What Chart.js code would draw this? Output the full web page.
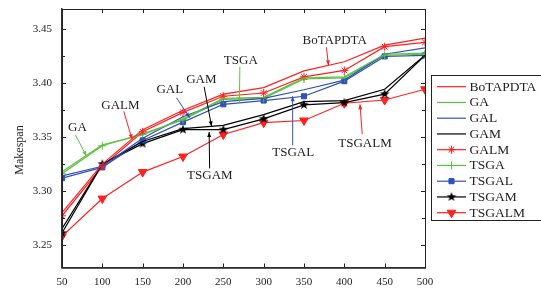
<!DOCTYPE html>
<html>
<head>
<meta charset="utf-8">
<script src="https://cdn.jsdelivr.net/npm/chart.js@4"></script>
<style>
  body { margin: 0; background: #fff; }
  #wrap { width: 541px; height: 293px; }
</style>
</head>
<body>
<div id="wrap"><canvas id="makespanChart" width="541" height="293"></canvas></div>
<script>
// data
const xValues = [50, 100, 150, 200, 250, 300, 350, 400, 450, 500];
const yTickValues = [3.25, 3.30, 3.35, 3.40, 3.45];
const yMinorValues = [3.275, 3.325, 3.375, 3.425];

const boTAPDTA = [3.280, 3.325, 3.357, 3.375, 3.390, 3.396, 3.4115, 3.420, 3.4355, 3.442];
const ga       = [3.318, 3.343, 3.352, 3.367, 3.386, 3.387, 3.405, 3.406, 3.427, 3.428];
const gal      = [3.314, 3.323, 3.349, 3.369, 3.383, 3.386, 3.394, 3.403, 3.427, 3.433];
const gam      = [3.265, 3.325, 3.346, 3.358, 3.361, 3.371, 3.383, 3.384, 3.3945, 3.426];
const galm     = [3.277, 3.323, 3.355, 3.373, 3.388, 3.391, 3.406, 3.412, 3.434, 3.438];
const tsga     = [3.316, 3.342, 3.353, 3.366, 3.385, 3.386, 3.404, 3.405, 3.426, 3.427];
const tsgal    = [3.312, 3.322, 3.347, 3.364, 3.3805, 3.384, 3.388, 3.402, 3.425, 3.426];
const tsgam    = [3.261, 3.325, 3.344, 3.357, 3.357, 3.367, 3.380, 3.382, 3.390, 3.426];
const tsgalm   = [3.258, 3.293, 3.3176, 3.332, 3.3525, 3.3635, 3.3655, 3.3815, 3.3845, 3.3945];

// annotation labels: text position and arrow (from -> to), in data units
const notes = [
  { text: 'BoTAPDTA', color: '#ff2020', tx: 388, ty: 3.4400, fx: 377.8, fy: 3.4335, ex: 380.3, ey: 3.4167 },
  { text: 'TSGA',     color: '#5cc040', tx: 271.7, ty: 3.4214, fx: 270.5, fy: 3.4154, ex: 269.9, ey: 3.3819 },
  { text: 'GAM',      color: '#000000', tx: 222.7, ty: 3.4038, fx: 226.2, fy: 3.3968, ex: 235.4, ey: 3.3601 },
  { text: 'GAL',      color: '#3050b8', tx: 183.6, ty: 3.3945, fx: 191.9, fy: 3.3866, ex: 208.4, ey: 3.3680 },
  { text: 'GALM',     color: '#ff2020', tx: 122.5, ty: 3.3796, fx: 126.6, fy: 3.3740, ex: 136.8, ey: 3.3480 },
  { text: 'GA',       color: '#5cc040', tx: 69.1,  ty: 3.3587, fx: 66.6,  fy: 3.3522, ex: 80.3,  ey: 3.3325 },
  { text: 'TSGAM',    color: '#000000', tx: 233.3, ty: 3.3146, fx: 233.0, fy: 3.3211, ex: 232.4, ey: 3.3548 },
  { text: 'TSGAL',    color: '#3050b8', tx: 336.6, ty: 3.3355, fx: 336.0, fy: 3.3424, ex: 335.9, ey: 3.3880 },
  { text: 'TSGALM',   color: '#ff2020', tx: 425.6, ty: 3.3438, fx: 422.2, fy: 3.3527, ex: 419.4, ey: 3.3805 }
];

const RED = '#ff2020', GREEN = '#5cc040', BLUE = '#3050b8', BLACK = '#000000';
const SERIF = '"Liberation Serif", "DejaVu Serif", serif';

function starImage(r, color) {
  const c = document.createElement('canvas');
  c.width = c.height = 2 * r + 2;
  const g = c.getContext('2d');
  g.fillStyle = color;
  g.beginPath();
  for (let i = 0; i < 10; i++) {
    const rr = i % 2 === 0 ? r : r * 0.42;
    const a = -Math.PI / 2 + i * Math.PI / 5;
    const px = r + 1 + rr * Math.cos(a), py = r + 1 + rr * Math.sin(a);
    if (i === 0) g.moveTo(px, py); else g.lineTo(px, py);
  }
  g.closePath();
  g.fill();
  return c;
}
const blackStar = starImage(5, BLACK);

function series(label, values, color, style, radius, rotation) {
  return {
    label: label,
    data: values.map(function(v, i) { return { x: xValues[i], y: v }; }),
    borderColor: color,
    backgroundColor: color,
    borderWidth: 1.2,
    pointStyle: style || false,
    pointRadius: style ? radius : 0,
    pointRotation: rotation || 0,
    pointBorderWidth: 1,
    pointBorderColor: color,
    pointBackgroundColor: color,
    tension: 0
  };
}

const datasets = [
  series('BoTAPDTA', boTAPDTA, RED),
  series('GA', ga, GREEN),
  series('GAL', gal, BLUE),
  series('GAM', gam, BLACK),
  series('GALM', galm, RED, 'star', 4),
  series('TSGA', tsga, GREEN, 'cross', 4),
  series('TSGAL', tsgal, BLUE, 'rect', 3.6),
  series('TSGAM', tsgam, BLACK, blackStar, 5),
  series('TSGALM', tsgalm, RED, 'triangle', 5, 180)
];

function arrow(ctx, x1, y1, x2, y2, color) {
  ctx.strokeStyle = color;
  ctx.fillStyle = color;
  ctx.lineWidth = 1;
  ctx.beginPath();
  ctx.moveTo(x1, y1);
  ctx.lineTo(x2, y2);
  ctx.stroke();
  const a = Math.atan2(y2 - y1, x2 - x1);
  const L = 5, W = 2;
  ctx.beginPath();
  ctx.moveTo(x2, y2);
  ctx.lineTo(x2 - L * Math.cos(a) + W * Math.sin(a), y2 - L * Math.sin(a) - W * Math.cos(a));
  ctx.lineTo(x2 - L * Math.cos(a) - W * Math.sin(a), y2 - L * Math.sin(a) + W * Math.cos(a));
  ctx.closePath();
  ctx.fill();
}

const decor = {
  id: 'decor',
  afterDraw: function(chart) {
    const ctx = chart.ctx;
    const a = chart.chartArea;
    const xs = chart.scales.x, ys = chart.scales.y;
    ctx.save();

    // frame
    ctx.strokeStyle = '#222';
    ctx.lineWidth = 1;
    ctx.strokeRect(a.left + 0.5, a.top + 0.5, a.right - a.left, a.bottom - a.top);

    // inward ticks, all four sides
    ctx.beginPath();
    xValues.forEach(function(v) {
      const px = Math.round(xs.getPixelForValue(v)) + 0.5;
      ctx.moveTo(px, a.bottom); ctx.lineTo(px, a.bottom - 4);
      ctx.moveTo(px, a.top); ctx.lineTo(px, a.top + 4);
    });
    yTickValues.forEach(function(v) {
      const py = Math.round(ys.getPixelForValue(v)) + 0.5;
      ctx.moveTo(a.left, py); ctx.lineTo(a.left + 4, py);
      ctx.moveTo(a.right, py); ctx.lineTo(a.right - 4, py);
    });
    yMinorValues.forEach(function(v) {
      const py = Math.round(ys.getPixelForValue(v)) + 0.5;
      ctx.moveTo(a.left, py); ctx.lineTo(a.left + 3, py);
      ctx.moveTo(a.right, py); ctx.lineTo(a.right - 3, py);
    });
    ctx.stroke();

    // y title
    ctx.save();
    ctx.translate(20, 150);
    ctx.rotate(-Math.PI / 2);
    ctx.fillStyle = '#222';
    ctx.font = '12px ' + SERIF;
    ctx.textAlign = 'center';
    ctx.textBaseline = 'middle';
    ctx.fillText('Makespan', 0, 0);
    ctx.restore();

    // annotations
    ctx.font = '13px ' + SERIF;
    ctx.textAlign = 'center';
    ctx.textBaseline = 'middle';
    notes.forEach(function(n) {
      arrow(ctx, xs.getPixelForValue(n.fx), ys.getPixelForValue(n.fy),
            xs.getPixelForValue(n.ex), ys.getPixelForValue(n.ey), n.color);
      ctx.fillStyle = '#222';
      ctx.fillText(n.text, xs.getPixelForValue(n.tx), ys.getPixelForValue(n.ty));
    });

    // legend box
    const lx = 431, ly = 75, rowH = 15.75;
    ctx.fillStyle = '#fff';
    ctx.fillRect(lx, ly, 120, 145);
    ctx.strokeStyle = '#222';
    ctx.lineWidth = 1;
    ctx.strokeRect(lx + 0.5, ly + 0.5, 120, 145);
    ctx.textAlign = 'left';
    ctx.font = '13.5px ' + SERIF;
    chart.data.datasets.forEach(function(ds, i) {
      const y = ly + 11.7 + i * rowH;
      ctx.strokeStyle = ds.borderColor;
      ctx.lineWidth = 1.2;
      ctx.beginPath();
      ctx.moveTo(437, y); ctx.lineTo(466, y);
      ctx.stroke();
      if (ds.pointStyle) {
        ctx.fillStyle = ds.borderColor;
        ctx.lineWidth = 1;
        Chart.helpers.drawPoint(ctx, {
          pointStyle: ds.pointStyle, radius: ds.pointRadius,
          rotation: ds.pointRotation, borderWidth: 1
        }, 451.5, y);
      }
      ctx.fillStyle = '#222';
      ctx.fillText(ds.label, 469.5, y + 0.5);
    });
    ctx.restore();
  }
};

const tickFont = { family: SERIF, size: 11 };

new Chart(document.getElementById('makespanChart'), {
  type: 'line',
  data: { datasets: datasets },
  options: {
    responsive: false,
    animation: false,
    layout: { autoPadding: false, padding: { top: 9, right: 116, left: 0, bottom: 0 } },
    plugins: { legend: { display: false }, tooltip: { enabled: false } },
    scales: {
      x: {
        type: 'linear', min: 50, max: 500,
        grid: { display: false, drawTicks: false },
        border: { color: '#333', width: 1.5 },
        ticks: { stepSize: 50, color: '#222', font: tickFont, padding: 8, maxRotation: 0 },
        afterFit: function(s) { s.height = 25.5; s.paddingLeft = 0; s.paddingRight = 0; }
      },
      y: {
        min: 3.229, max: 3.469,
        grid: { display: false, drawTicks: false },
        border: { color: '#333', width: 1.5 },
        ticks: { color: '#222', font: tickFont, padding: 10,
                 callback: function(v) { return v.toFixed(2); } },
        afterBuildTicks: function(s) { s.ticks = yTickValues.map(function(v) { return { value: v }; }); },
        afterFit: function(s) { s.width = 62; s.paddingTop = 0; s.paddingBottom = 0; }
      }
    }
  },
  plugins: [decor]
});
</script>
</body>
</html>
